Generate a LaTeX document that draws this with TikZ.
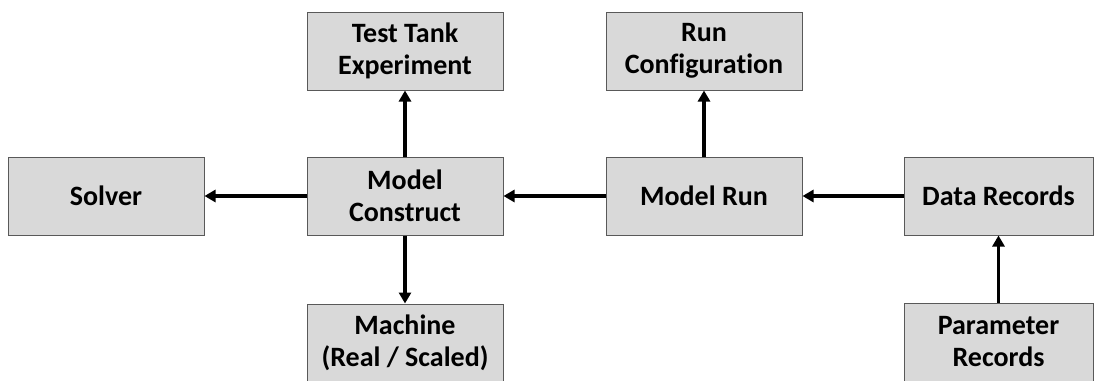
\documentclass[tikz,border=0pt]{standalone}
\usepackage{fontspec}
\setmainfont{Carlito}[Ligatures=NoCommon]
\usetikzlibrary{arrows.meta}
\definecolor{boxfill}{HTML}{D9D9D9}
\definecolor{boxline}{HTML}{595959}
\tikzset{
  block/.style={rectangle, draw=boxline, line width=1pt, fill=boxfill,
    minimum width=196pt, minimum height=78pt, inner sep=0pt, align=center,
    font=\bfseries\fontsize{28}{32}\selectfont, text=black},
  narrowblock/.style={block, minimum width=189pt},
  flow/.style={line width=3.5pt, draw=black,
    -{Triangle[length=11pt, width=12pt]}}
}
\begin{document}
\begin{tikzpicture}[x=1pt, y=-1pt]
  \useasboundingbox (0,0) rectangle (1094,380);
  \clip (0,0) rectangle (1094,380);

  % top row
  \node[block] (tank) at (405,51) {Test Tank\\Experiment};
  \node[block] (conf) at (704,51) {Run\\Configuration};

  % middle row
  \node[block] (solver) at (106,196) {Solver};
  \node[block] (construct) at (405,196) {Model\\Construct};
  \node[block] (run) at (704,196) {Model Run};
  \node[narrowblock] (data) at (998.5,196) {Data Records};

  % bottom row
  \node[block] (machine) at (405,343) {Machine\\(Real / Scaled)};
  \node[narrowblock] (param) at (998.5,342) {Parameter\\Records};

  % connectors
  \draw[flow] (construct.west) -- (solver.east);
  \draw[flow] (construct.north) -- (tank.south);
  \draw[flow] (construct.south) -- (machine.north);
  \draw[flow] (run.west) -- (construct.east);
  \draw[flow] (run.north) -- (conf.south);
  \draw[flow] (data.west) -- (run.east);
  \draw[flow] (param.north) -- (data.south);
\end{tikzpicture}
\end{document}
